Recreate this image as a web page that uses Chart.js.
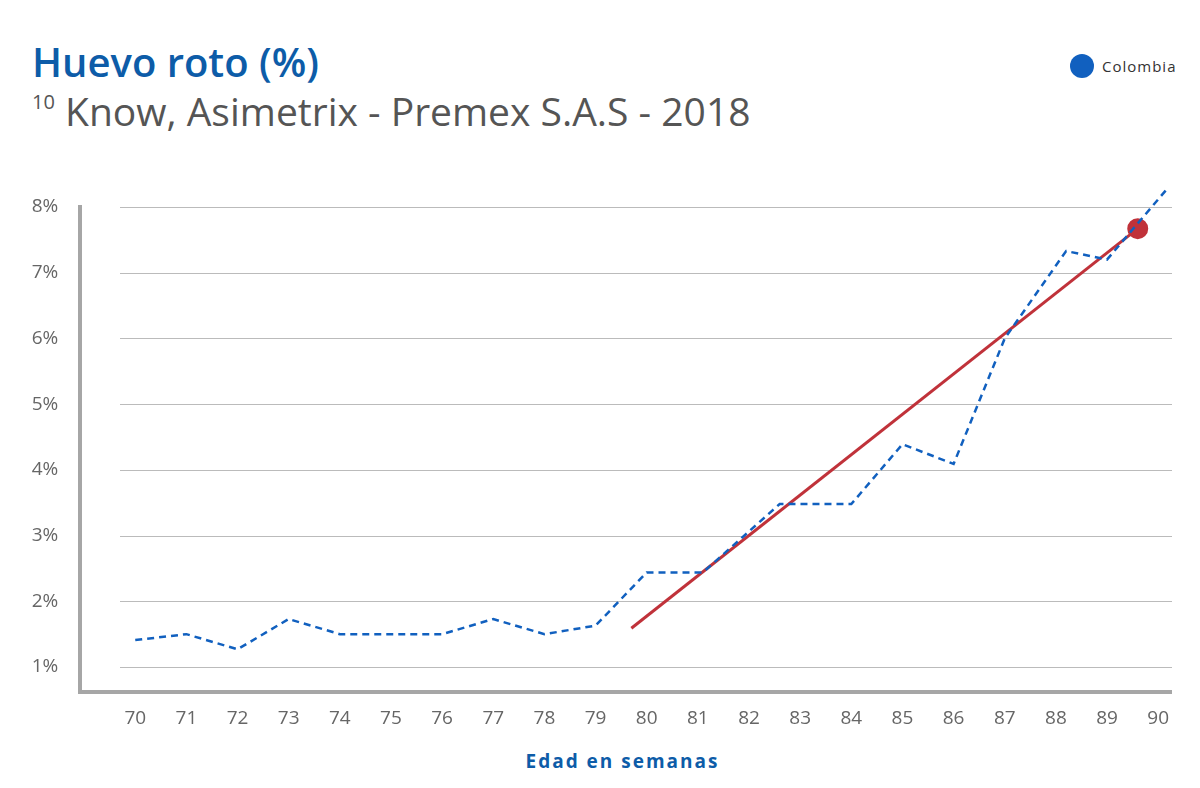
<!DOCTYPE html>
<html><head><meta charset="utf-8">
<script src="https://cdn.jsdelivr.net/npm/chart.js@4"></script>
<style>
body{margin:0;width:1200px;height:788px;background:#fff;font-family:"Open Sans",sans-serif;position:relative;overflow:hidden}
#t{position:absolute;left:32px;top:34px;font-size:40px;color:#0d5ca8;font-weight:600}
#s{position:absolute;left:32px;top:84px;font-size:39px;color:#555}
#s sup{font-size:20px;vertical-align:top;position:relative;top:4px}
#lg{position:absolute;left:1070px;top:54px;font-size:15px;color:#333;letter-spacing:1px;display:flex;align-items:center}
#lg span{display:inline-block;width:24px;height:24px;border-radius:50%;background:#1160bf;margin-right:8px}
#xl{position:absolute;left:0;width:1245px;top:748px;text-align:center;font-size:19px;color:#0d5ca8;font-weight:700;letter-spacing:2px}
canvas{position:absolute;left:0;top:0}
</style></head><body>
<div id="t">Huevo roto (%)</div>
<div id="s"><sup>10</sup> Know, Asimetrix - Premex S.A.S - 2018</div>
<div id="lg"><span></span>Colombia</div>
<div id="xl">Edad en semanas</div>
<canvas id="c" width="1200" height="788"></canvas>
<script>
const weeks=[70,71,72,73,74,75,76,77,78,79,80,81,82,83,84,85,86,87,88,89,90];
const yTicks=[1,2,3,4,5,6,7,8];
const seriesX=[70,71,72,73,74,75,76,77,78,79,80,81.1,82.6,84,85,86,87,88.2,89,90.2];
const seriesY=[1.41,1.5,1.27,1.73,1.5,1.5,1.5,1.73,1.5,1.63,2.44,2.44,3.48,3.48,4.39,4.09,6.0,7.33,7.2,8.3];
const trendX=[79.7,89.6];
const trendY=[1.59,7.67];
const axes={id:'ax',beforeDatasetsDraw(ch){const c=ch.ctx,x=ch.scales.x,y=ch.scales.y,a=ch.chartArea;
c.save();c.strokeStyle='#bbb';c.lineWidth=1;
yTicks.forEach(v=>{const p=Math.round(y.getPixelForValue(v))+0.5;c.beginPath();c.moveTo(120,p);c.lineTo(a.right,p);c.stroke();});
c.strokeStyle='#a6a6a6';c.lineWidth=4;c.beginPath();c.moveTo(a.left,205);c.lineTo(a.left,a.bottom);c.lineTo(a.right,a.bottom);c.stroke();
c.fillStyle='#666';c.font='19px "Open Sans"';c.textAlign='center';c.textBaseline='middle';
yTicks.forEach(v=>c.fillText(v+'%',45,y.getPixelForValue(v)));
weeks.forEach(w=>c.fillText(String(w),x.getPixelForValue(w),719));
c.restore();}};
new Chart(document.getElementById('c'),{type:'scatter',
data:{datasets:[
{data:seriesX.map((v,i)=>({x:v,y:seriesY[i]})),showLine:true,clip:false,borderColor:'#1160bf',borderWidth:2.5,borderDash:[7,5],pointRadius:0},
{data:trendX.map((v,i)=>({x:v,y:trendY[i]})),showLine:true,borderColor:'#c0323a',borderWidth:3,pointRadius:[0,9],pointBackgroundColor:'#c0323a',pointBorderColor:'#c0323a'}]},
options:{responsive:false,animation:false,devicePixelRatio:1,
layout:{padding:{left:80,right:28,top:184,bottom:96}},
plugins:{legend:{display:false},tooltip:{enabled:false}},
scales:{x:{type:'linear',min:68.92,max:90.27,display:false},y:{min:0.62,max:8.35,display:false}}},
plugins:[axes]});
</script>
</body></html>
